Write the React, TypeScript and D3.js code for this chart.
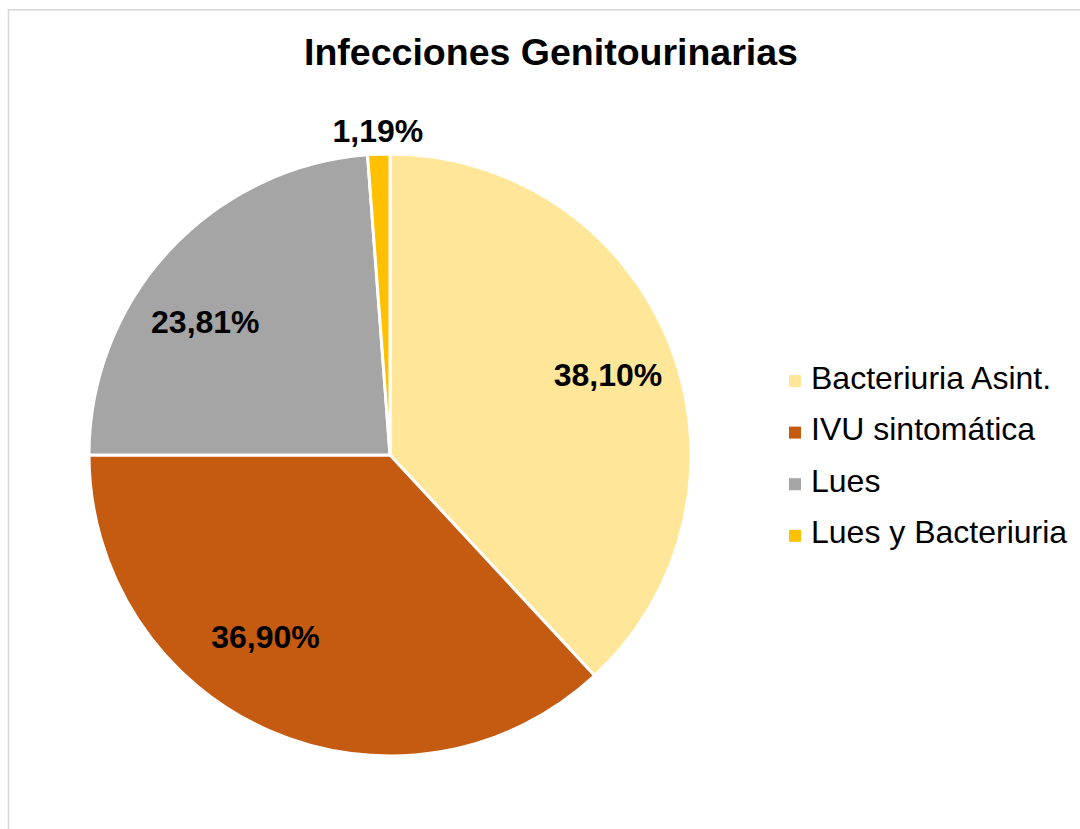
import { useEffect, useRef } from "react";
import * as d3 from "d3";

const categories = ["Bacteriuria Asint.", "IVU sintomática", "Lues", "Lues y Bacteriuria"];
const values = [38.1, 36.9, 23.81, 1.19];
const labels = ["38,10%", "36,90%", "23,81%", "1,19%"];
const colors = ["#FFE699", "#C55A11", "#A5A5A5", "#FFC000"];

// Excel "best fit" shifts some labels away from the plain centroid
const labelNudge: [number, number][] = [[5, 3], [-33, -28], [-17, 22], [0, 0]];

export default function App() {
  const ref = useRef<SVGSVGElement>(null);

  useEffect(() => {
    const svg = d3.select(ref.current);
    svg.selectAll("*").remove();

    const font = "Liberation Sans, Arial, sans-serif";
    const cx = 390;
    const cy = 455;
    const r = 301;

    svg
      .append("rect")
      .attr("x", 8.5)
      .attr("y", 9.8)
      .attr("width", 1200)
      .attr("height", 1000)
      .attr("fill", "none")
      .attr("stroke", "#d9d9d9")
      .attr("stroke-width", 1.6);

    svg
      .append("text")
      .attr("x", 551)
      .attr("y", 65)
      .attr("text-anchor", "middle")
      .attr("font-family", font)
      .attr("font-weight", "bold")
      .attr("font-size", 37.5)
      .text("Infecciones Genitourinarias");

    const data = values.map((v, i) => ({ v, i }));
    const pie = d3.pie<{ v: number; i: number }>().value(d => d.v).sort(null);
    const arcs = pie(data);
    const arc = d3.arc<d3.PieArcDatum<{ v: number; i: number }>>().innerRadius(0).outerRadius(r);

    const g = svg.append("g").attr("transform", `translate(${cx},${cy})`);

    g.selectAll("path")
      .data(arcs)
      .enter()
      .append("path")
      .attr("d", arc)
      .attr("fill", d => colors[d.data.i])
      .attr("stroke", "#fff")
      .attr("stroke-width", 3)
      .attr("stroke-linejoin", "round");

    const inner = d3.arc<d3.PieArcDatum<{ v: number; i: number }>>().innerRadius(r * 0.76).outerRadius(r * 0.76);
    const outer = d3.arc<d3.PieArcDatum<{ v: number; i: number }>>().innerRadius(r * 1.08).outerRadius(r * 1.08);

    g.selectAll("text.lbl")
      .data(arcs)
      .enter()
      .append("text")
      .attr("class", "lbl")
      .attr("transform", d => {
        const p = d.data.v < 5 ? outer.centroid(d) : inner.centroid(d);
        const n = labelNudge[d.data.i];
        return `translate(${p[0] + n[0]},${p[1] + n[1]})`;
      })
      .attr("dy", "0.36em")
      .attr("text-anchor", "middle")
      .attr("font-family", font)
      .attr("font-weight", "bold")
      .attr("font-size", 32)
      .text(d => labels[d.data.i]);

    const leg = svg.append("g").attr("transform", "translate(789,381)");
    const y = d3.scaleLinear().domain([0, 1]).range([0, 51.6]);
    const items = leg
      .selectAll("g")
      .data(categories)
      .enter()
      .append("g")
      .attr("transform", (_, i) => `translate(0,${y(i)})`);
    items
      .append("rect")
      .attr("x", 0)
      .attr("y", -6)
      .attr("width", 12)
      .attr("height", 12)
      .attr("fill", (_, i) => colors[i]);
    items
      .append("text")
      .attr("x", 22)
      .attr("y", 7.5)
      .attr("font-family", font)
      .attr("font-size", 32)
      .attr("fill", "#000")
      .text(d => d);
  }, []);

  return (
    <div style={{ position: "absolute", left: 0, top: 0 }}>
      <svg ref={ref} width={1080} height={829} style={{ display: "block" }} />
    </div>
  );
}
